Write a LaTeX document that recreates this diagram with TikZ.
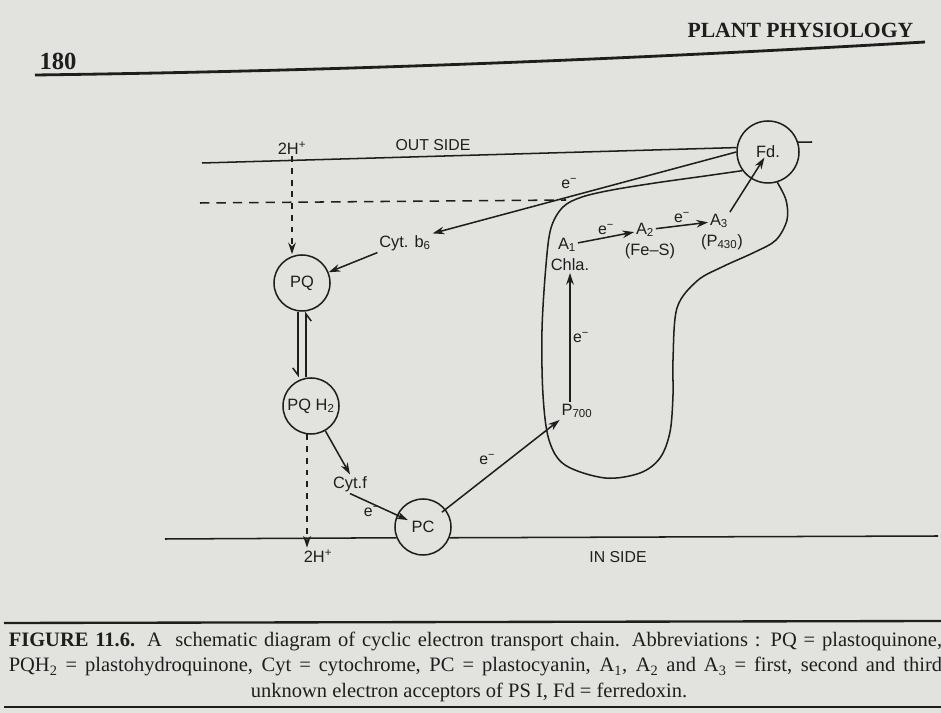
\documentclass[tikz,border=0pt]{standalone}
\usepackage{fontspec}
\setmainfont{Liberation Serif}
\setsansfont{Liberation Sans}
\usepackage{tikz}
\usetikzlibrary{calc,positioning,arrows,arrows.meta}

\definecolor{paper}{RGB}{226,226,223}
\definecolor{ink}{RGB}{30,30,30}

\begin{document}
\begin{tikzpicture}[x=0.03cm, y=-0.03cm, >={Stealth[length=10pt,width=6.5pt]}, line width=1.3pt, color=ink,
    carrier/.style={circle, draw, minimum size=1.68cm, inner sep=0pt, font=\sffamily\fontsize{14}{16}\selectfont},
    lbl/.style={font=\sffamily\fontsize{14}{16}\selectfont, inner sep=1pt},
    elec/.style={font=\sffamily\fontsize{13.5}{15}\selectfont, inner sep=2pt},
    side/.style={font=\sffamily\fontsize{13.5}{15}\selectfont},
    harp/.style={-{Straight Barb[right,length=6pt,width=9pt]}},
    protons/.style={->, dash pattern=on 5pt off 5pt},
    capline/.style={font=\fontsize{17.5}{21}\selectfont, inner sep=0pt}]

    % page
    \fill[paper] (0,0) rectangle (941,713);
    \useasboundingbox (0,0) rectangle (941,713);
    \draw (58,70) node[anchor=base, font=\bfseries\fontsize{21}{24}\selectfont] (pageno) {180};
    \draw (918,38) node[anchor=base east, font=\bfseries\fontsize{18.5}{20}\selectfont] (runhead) {PLANT PHYSIOLOGY};
    \draw[line width=2.4pt] (35,75) .. controls (350,71) and (650,58) .. (925,42);

    % carriers
    \draw (768,152) node[carrier, minimum size=1.86cm] (fd) {Fd.};
    \draw (302,283) node[carrier] (pq) {PQ};
    \draw (311,406) node[carrier] (pqh) {PQ H\textsubscript{2}};
    \draw (423,527) node[carrier] (pc) {PC};

    % labels
    \draw (292,148) node[lbl] (htop) {2H\textsuperscript{+}};
    \draw (318,556) node[lbl] (hbot) {2H\textsuperscript{+}};
    \draw (433,145) node[side] (outside) {OUT SIDE};
    \draw (618,557) node[side] (inside) {IN SIDE};
    \draw (405,243) node[lbl] (cytb) {Cyt. b\textsubscript{6}};
    \draw (350,484) node[lbl] (cytf) {Cyt.f};
    \draw (577,411) node[lbl] (ptsev) {P\textsubscript{700}};
    \draw (567,245) node[lbl] (aone) {A\textsubscript{1}};
    \draw (570,265) node[lbl] (chla) {Chla.};
    \draw (645,230) node[lbl] (atwo) {A\textsubscript{2}};
    \draw (650,251) node[lbl] (fes) {(Fe--S)};
    \draw (719,221) node[lbl] (athree) {A\textsubscript{3}};
    \draw (722,242) node[lbl] (pfour) {(P\textsubscript{430})};

    % membranes
    \coordinate (outl) at (202,163);
    \coordinate (outr) at (812,142);
    \coordinate (inl) at (165,539);
    \coordinate (inr) at (938,536);
    \coordinate (dashl) at (200,203);
    \coordinate (dashr) at (566,200);
    \draw (outl) -- (fd.172);
    \draw (fd.18) -- (outr);
    \draw (inl) -- (pc.202);
    \draw (pc.338) -- (inr);
    \draw[dash pattern=on 8pt off 6pt] (dashl) -- (dashr);

    % photosystem I
    \draw plot[smooth, tension=0.55] coordinates {(fd.216) (705,176) (655,183) (612,190) (582,197)
      (563,207) (551,228) (546,265) (542,330) (543,395) (549,440) (565,465) (605,478) (640,473)
      (660,458) (670,432) (673,395) (673,360) (677,308) (697,281) (722,267) (755,252) (776,240)
      (787,220) (786,200) (fd.-73)};

    % lines
    \draw[protons] (htop.south) -- (htop.south |- pq.north);
    \draw[protons] (pqh.262) -- (pqh.262 |- hbot.north);
    \draw[harp] ([xshift=-0.12cm]pq.south) -- ([xshift=-0.12cm]pq.south |- pqh.north);
    \draw[harp] ([xshift=0.12cm]pq.south |- pqh.north) -- ([xshift=0.12cm]pq.south);
    \draw[->] (fd.180) -- node[elec, above=4pt, pos=0.55] {e\textsuperscript{−}} (cytb.north east);
    \draw[->] (cytb.south west) -- (pq);
    \draw[->] (pqh.-60) -- (cytf.north);
    \draw[->, shorten >=0.5cm] (cytf.south) -- node[elec, below, pos=0.3] {e\textsuperscript{−}} (pc.center);
    \draw[->, shorten <=0.72cm] (pc.center) -- node[elec, above left, pos=0.55] {e\textsuperscript{−}} (ptsev.south west);
    \draw[->] (ptsev.north -| chla.south) -- node[elec, right, pos=0.5] {e\textsuperscript{−}} (chla.south);
    \draw[->] (aone) -- node[elec, above] {e\textsuperscript{−}} (atwo);
    \draw[->] (atwo) -- node[elec, above] {e\textsuperscript{−}} (athree);
    \draw[->, shorten >=0.2cm] (athree.north east) -- (fd.center);

    % caption
    \draw[line width=2pt] (4,623) -- (941,621);
    \draw[line width=2pt] (4,707) -- (941,707);
    \draw (8,647) node[capline, anchor=base west] (capa) {\makebox[28.0cm][s]{\textbf{FIGURE 11.6.} A\ \ schematic diagram of cyclic electron transport chain. Abbreviations : PQ = plastoquinone,}};
    \draw (8,672) node[capline, anchor=base west] (capb) {\makebox[28.0cm][s]{PQH\textsubscript{2} = plastohydroquinone, Cyt = cytochrome, PC = plastocyanin, A\textsubscript{1}, A\textsubscript{2} and A\textsubscript{3} = first, second and third}};
    \draw (469,698) node[capline, anchor=base] (capc) {unknown electron acceptors of PS I, Fd = ferredoxin.};

\end{tikzpicture}
\end{document}
